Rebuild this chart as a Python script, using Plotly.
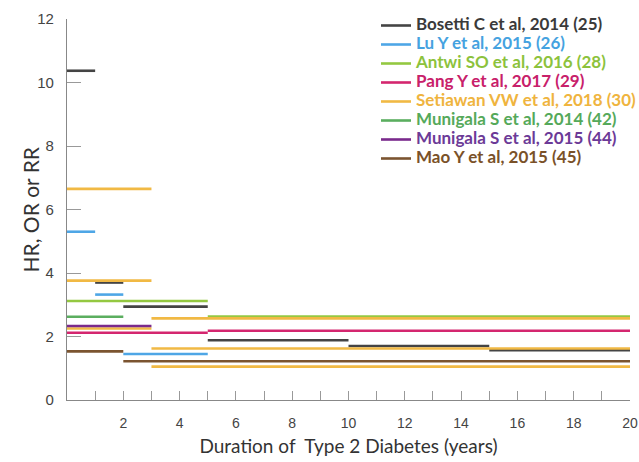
import plotly.graph_objects as go

# Each study: segment starts, ends, values (duration in years, HR/OR/RR)
bosetti_start = [0, 1, 2, 5, 10, 15]
bosetti_end = [1, 2, 5, 10, 15, 20]
bosetti_val = [10.37, 3.70, 2.94, 1.88, 1.70, 1.57]

lu_start = [0, 1, 2]
lu_end = [1, 2, 5]
lu_val = [5.30, 3.32, 1.45]

antwi_start = [0, 5]
antwi_end = [5, 20]
antwi_val = [3.12, 2.63]

pang_start = [0, 5]
pang_end = [5, 20]
pang_val = [2.12, 2.18]

setiawan_start = [0, 0, 0, 3, 3, 3]
setiawan_end = [3, 3, 3, 20, 20, 20]
setiawan_val = [6.65, 3.76, 2.25, 2.57, 1.62, 1.05]

munigala14_start = [0]
munigala14_end = [2]
munigala14_val = [2.62]

munigala15_start = [0]
munigala15_end = [3]
munigala15_val = [2.33]

mao_start = [0, 2]
mao_end = [2, 20]
mao_val = [1.53, 1.22]

studies = [
    ("Bosetti C et al, 2014 (25)", bosetti_start, bosetti_end, bosetti_val, "#444444", "#3a3a3a"),
    ("Lu Y et al, 2015 (26)", lu_start, lu_end, lu_val, "#4ea6e6", "#45a2e0"),
    ("Antwi SO et al, 2016 (28)", antwi_start, antwi_end, antwi_val, "#94c841", "#8cc23c"),
    ("Pang Y et al, 2017 (29)", pang_start, pang_end, pang_val, "#d4266f", "#c8206a"),
    ("Setiawan VW et al, 2018 (30)", setiawan_start, setiawan_end, setiawan_val, "#f1b944", "#efb43e"),
    ("Munigala S et al, 2014 (42)", munigala14_start, munigala14_end, munigala14_val, "#5bae5f", "#55a95a"),
    ("Munigala S et al, 2015 (44)", munigala15_start, munigala15_end, munigala15_val, "#7a2a8c", "#6c3a97"),
    ("Mao Y et al, 2015 (45)", mao_start, mao_end, mao_val, "#7b5430", "#7a5128"),
]

x_tick_vals = list(range(1, 21))
x_tick_text = [str(v) if v % 2 == 0 else "" for v in x_tick_vals]
y_tick_vals = [0, 2, 4, 6, 8, 10, 12]

W, H = 639, 462

fig = go.Figure()
for name, s, e, v, lc, tc in studies:
    xs, ys = [], []
    for a, b, c in zip(s, e, v):
        xs += [a, b, None]
        ys += [c, c, None]
    fig.add_trace(go.Scatter(
        x=xs, y=ys, mode="lines",
        line=dict(color=lc, width=2.6),
        name=f'<span style="color:{tc};font-size:17px">{name}</span>',
        hoverinfo="skip",
    ))

fig.update_layout(
    width=W, height=H,
    margin=dict(l=67, r=9, t=19, b=62, autoexpand=False),
    paper_bgcolor="white", plot_bgcolor="white",
    showlegend=True,
    legend=dict(
        xref="container", yref="container",
        x=376 / W, y=1 - 11 / H, xanchor="left", yanchor="top",
        font=dict(family="Lato", size=12, weight="bold"),
        bgcolor="rgba(0,0,0,0)", tracegroupgap=0,
    ),
    font=dict(family="Lato", color="#333333"),
    annotations=[dict(
        text="HR, OR or RR", xref="paper", yref="paper", x=0, y=0.5,
        xanchor="center", yanchor="middle",
        xshift=-37, textangle=-90, showarrow=False,
        font=dict(family="Lato", size=21, color="#333333"),
    )],
)
fig.update_xaxes(
    range=[0, 20], tickmode="array", tickvals=x_tick_vals, ticktext=x_tick_text,
    ticks="inside", ticklen=9, tickcolor="#999999", tickwidth=1,
    showline=True, linecolor="#888888", linewidth=1.3,
    showgrid=False, zeroline=False, automargin=False,
    tickfont=dict(family="Liberation Sans", size=14, color="#444444"),
    ticklabelstandoff=10,
    title=dict(text="Duration of  Type 2 Diabetes (years)",
               font=dict(family="Lato", size=19, color="#333333"), standoff=9),
)
fig.update_yaxes(
    range=[0, 12], tickmode="array", tickvals=y_tick_vals,
    ticks="inside", ticklen=14, tickcolor="#999999", tickwidth=1,
    showline=True, linecolor="#888888", linewidth=1.3,
    showgrid=False, zeroline=False, automargin=False,
    tickfont=dict(family="Liberation Sans", size=15, color="#444444"),
    ticklabelstandoff=9,
)

# remove the browser's default 8px body margin so the figure fills the window exactly
fig.write_html(
    "out.html",
    config={"displayModeBar": False},
    post_script="document.body.style.margin='0';document.body.style.overflow='hidden';",
)
